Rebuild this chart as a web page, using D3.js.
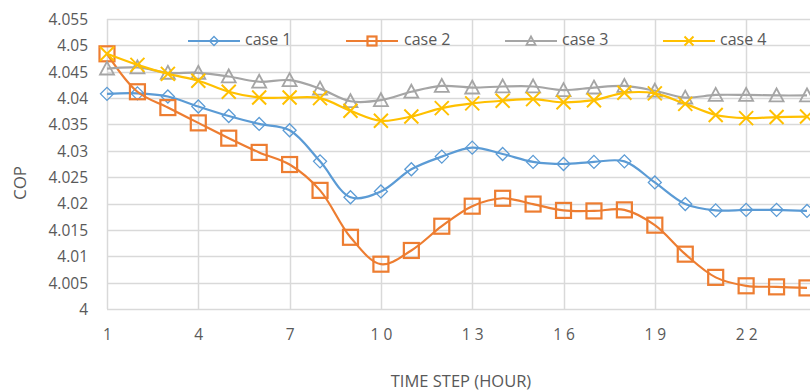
<!DOCTYPE html>
<html>
<head>
<meta charset="utf-8">
<script src="https://cdn.jsdelivr.net/npm/d3@7"></script>
<style>
  html, body { margin: 0; padding: 0; background: #fff; }
  svg { display: block; }
  text { font-family: "Open Sans", "Liberation Sans", sans-serif; fill: #595959; }
</style>
</head>
<body>
<svg id="chart" width="810" height="392"></svg>
<script>
const hours = d3.range(1, 25);
const case1 = [4.0408, 4.0409, 4.0403, 4.0384, 4.0366, 4.0351, 4.0339, 4.0280, 4.0212, 4.0223, 4.0265, 4.0289, 4.0306, 4.0294, 4.0279, 4.0275, 4.0279, 4.0280, 4.0240, 4.0199, 4.0187, 4.0188, 4.0188, 4.0186];
const case2 = [4.0484, 4.0412, 4.0382, 4.0353, 4.0324, 4.0297, 4.0274, 4.0225, 4.0136, 4.0085, 4.0111, 4.0157, 4.0195, 4.0210, 4.0199, 4.0187, 4.0186, 4.0188, 4.0159, 4.0104, 4.0060, 4.0044, 4.0042, 4.0040];
const case3 = [4.0456, 4.0458, 4.0448, 4.0448, 4.0441, 4.0431, 4.0434, 4.0418, 4.0394, 4.0396, 4.0412, 4.0423, 4.0420, 4.0422, 4.0422, 4.0415, 4.0420, 4.0423, 4.0414, 4.0401, 4.0406, 4.0406, 4.0405, 4.0405];
const case4 = [4.0484, 4.0463, 4.0446, 4.0433, 4.0412, 4.0401, 4.0401, 4.0400, 4.0376, 4.0357, 4.0365, 4.0381, 4.0390, 4.0395, 4.0398, 4.0392, 4.0396, 4.0410, 4.0409, 4.0389, 4.0368, 4.0362, 4.0364, 4.0365];
const seriesNames = ["case 1", "case 2", "case 3", "case 4"];
const xTicks = [1, 4, 7, 10, 13, 16, 19, 22];
const yTicks = [4, 4.005, 4.01, 4.015, 4.02, 4.025, 4.03, 4.035, 4.04, 4.045, 4.05, 4.055];
const yTickLabels = ["4", "4.005", "4.01", "4.015", "4.02", "4.025", "4.03", "4.035", "4.04", "4.045", "4.05", "4.055"];

const colors = ["#5B9BD5", "#ED7D31", "#A5A5A5", "#FFC000"];
const markers = ["diamond", "square", "triangle", "x"];
const allSeries = [case1, case2, case3, case4];

const svg = d3.select("#chart");
const x = d3.scaleLinear().domain([1, 24]).range([107, 807]);
const y = d3.scaleLinear().domain([4, 4.055]).range([309, 19]);

// gridlines
const grid = svg.append("g");
grid.selectAll("line.h").data(yTicks).join("line")
  .attr("x1", x(1)).attr("x2", 840)
  .attr("y1", d => Math.round(y(d)) + 0.5).attr("y2", d => Math.round(y(d)) + 0.5)
  .attr("stroke", "#D9D9D9").attr("stroke-width", 1.5);
grid.selectAll("line.v").data(xTicks).join("line")
  .attr("x1", d => Math.round(x(d)) + 0.5).attr("x2", d => Math.round(x(d)) + 0.5)
  .attr("y1", y(4.055)).attr("y2", y(4))
  .attr("stroke", "#D9D9D9").attr("stroke-width", 1.5);

// y axis labels
const yAxis = d3.axisLeft(y).tickValues(yTicks).tickFormat((d, i) => yTickLabels[i]).tickSize(0).tickPadding(0);
const yg = svg.append("g").attr("transform", "translate(88,0)").call(yAxis);
yg.select(".domain").remove();
yg.selectAll("text").attr("font-size", 15.5).attr("fill", "#595959")
  .style("font-family", "'Open Sans', sans-serif").attr("dy", "0.35em");

// x axis labels
const xAxis = d3.axisBottom(x).tickValues(xTicks).tickSize(0).tickPadding(0);
const xg = svg.append("g").attr("transform", "translate(0,327)").call(xAxis);
xg.select(".domain").remove();
xg.selectAll("text").attr("font-size", 15.5).attr("fill", "#595959")
  .style("font-family", "'Open Sans', sans-serif")
  .style("letter-spacing", "4px")
  .attr("dx", "2px").attr("dy", "0.35em").attr("y", 8);

// axis titles
svg.append("text").attr("x", 461).attr("y", 383).attr("text-anchor", "middle")
  .attr("dominant-baseline", "middle").attr("font-size", 16.5).text("TIME STEP (HOUR)");
svg.append("text").attr("transform", "translate(21,183) rotate(-90)").attr("text-anchor", "middle")
  .attr("dominant-baseline", "middle").attr("font-size", 17).text("COP");

// marker drawing
function drawMarker(g, type, color, size) {
  const h = size / 2;
  if (type === "diamond") {
    g.append("path").attr("d", `M0,${-h}L${h},0L0,${h}L${-h},0Z`)
      .attr("fill", "none").attr("stroke", color).attr("stroke-width", 1.3);
  } else if (type === "square") {
    g.append("rect").attr("x", -h).attr("y", -h).attr("width", size).attr("height", size)
      .attr("fill", "none").attr("stroke", color).attr("stroke-width", 2.2);
  } else if (type === "triangle") {
    g.append("path").attr("d", `M0,${-h}L${h},${h * 0.85}L${-h},${h * 0.85}Z`)
      .attr("fill", "none").attr("stroke", color).attr("stroke-width", 1.8);
  } else {
    g.append("path").attr("d", `M${-h},${-h}L${h},${h}M${-h},${h}L${h},${-h}`)
      .attr("fill", "none").attr("stroke", color).attr("stroke-width", 2);
  }
}

const line = d3.line().x((d, i) => x(hours[i])).y(d => y(d)).curve(d3.curveCatmullRom.alpha(0.5));
const markerSizes = [13, 15, 14, 14];

allSeries.forEach((vals, si) => {
  const g = svg.append("g");
  g.append("path").attr("d", line(vals)).attr("fill", "none")
    .attr("stroke", colors[si]).attr("stroke-width", 2.2);
  vals.forEach((v, i) => {
    const mg = g.append("g").attr("transform", `translate(${x(hours[i])},${y(v)})`);
    drawMarker(mg, markers[si], colors[si], markerSizes[si]);
  });
});

// legend
const legendItems = [
  { x1: 188, mx: 214, tx: 245 },
  { x1: 346, mx: 372, tx: 404 },
  { x1: 505, mx: 531, tx: 562 },
  { x1: 663, mx: 689, tx: 720 }
];
const lg = svg.append("g");
legendItems.forEach((it, si) => {
  const g = lg.append("g");
  g.append("line").attr("x1", it.x1).attr("x2", it.x1 + 52).attr("y1", 41).attr("y2", 41)
    .attr("stroke", colors[si]).attr("stroke-width", 2.2);
  const mg = g.append("g").attr("transform", `translate(${it.mx},41)`);
  drawMarker(mg, markers[si], colors[si], 9);
  g.append("text").attr("x", it.tx).attr("y", 41).attr("dominant-baseline", "middle")
    .attr("font-size", 16).text(seriesNames[si]);
});
</script>
</body>
</html>
